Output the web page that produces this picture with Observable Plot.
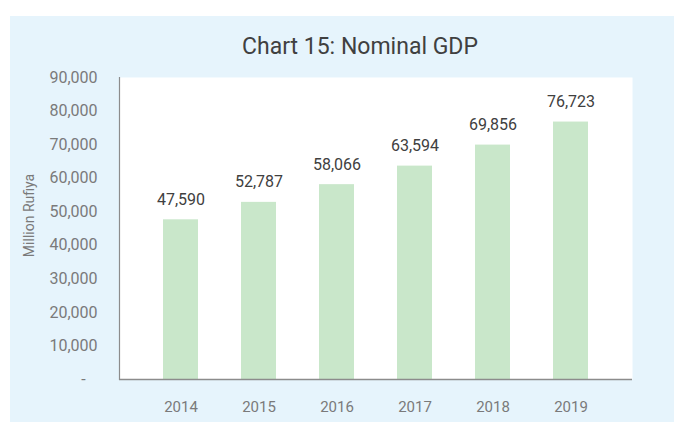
<!DOCTYPE html>
<html>
<head>
<meta charset="utf-8">
<script src="https://cdn.jsdelivr.net/npm/d3@7"></script>
<script src="https://cdn.jsdelivr.net/npm/@observablehq/plot@0.6"></script>
<style>
  html, body { margin: 0; padding: 0; background: #ffffff; }
  #wrap { position: relative; width: 684px; height: 428px; overflow: hidden; font-family: Roboto, "Noto Sans", sans-serif; }
  #panel { position: absolute; left: 10px; top: 16px; width: 664px; height: 406px; background: #e6f4fc; }
  #title { position: absolute; left: 360px; top: 33px; transform: translateX(-50%); font-size: 23px; color: #404040; white-space: nowrap; line-height: 28px; }
  #chart { position: absolute; left: 0; top: 0; }
</style>
</head>
<body>
<div id="wrap">
  <div id="panel"></div>
  <div id="title">Chart 15: Nominal GDP</div>
  <div id="chart"></div>
</div>
<script>
const years = ["2014", "2015", "2016", "2017", "2018", "2019"];
const gdp = [47590, 52787, 58066, 63594, 69856, 76723];
const yTicks = [0, 10000, 20000, 30000, 40000, 50000, 60000, 70000, 80000, 90000];
const yLabel = "Million Rufiya";

const data = years.map((y, i) => ({year: y, value: gdp[i]}));
const fmt = d3.format(",");

const chart = Plot.plot({
  width: 684,
  height: 428,
  marginLeft: 119,
  marginRight: 52,
  marginTop: 77,
  marginBottom: 49,
  style: {background: "transparent", fontFamily: "Roboto, sans-serif", overflow: "visible"},
  x: {domain: years, padding: 0.555, label: null},
  y: {domain: [0, 90000], label: null},
  marks: [
    Plot.frame({fill: "white", stroke: null}),
    Plot.barY(data, {x: "year", y: "value", fill: "#c9e7ca"}),
    Plot.ruleY([0], {stroke: "#8c8c8c", strokeWidth: 1.5}),
    Plot.frame({anchor: "left", stroke: "#8c8c8c", strokeWidth: 1.2}),
    Plot.text(data, {x: "year", y: "value", text: d => fmt(d.value), dy: -20, fontSize: 16, fill: "#404040"}),
    Plot.axisX({tickSize: 0, tickPadding: 22, fontSize: 15, color: "#7a7a7a", label: null}),
    Plot.axisY({ticks: yTicks, tickSize: 0, tickPadding: 22, fontSize: 16, color: "#7a7a7a",
      tickFormat: d => d === 0 ? "-\u00a0\u00a0\u00a0" : fmt(d), label: null}),
    Plot.text([yLabel], {text: d => d, frameAnchor: "left", textAnchor: "middle", rotate: -90, dx: -90, dy: -13,
      fontSize: 14, fill: "#7a7a7a"})
  ]
});
document.getElementById("chart").appendChild(chart);
</script>
</body>
</html>
